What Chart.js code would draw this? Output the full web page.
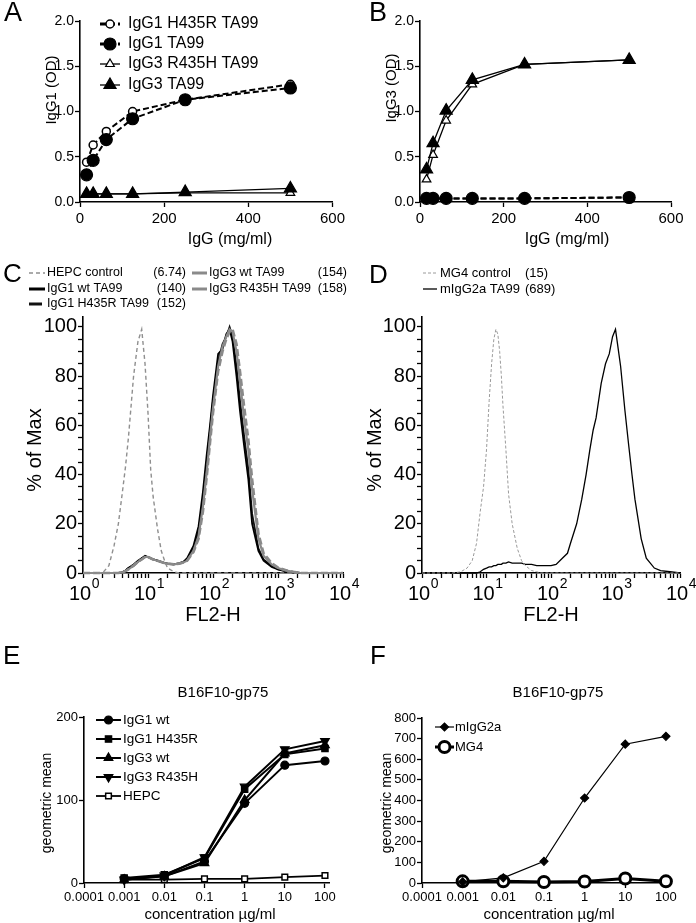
<!DOCTYPE html>
<html>
<head>
<meta charset="utf-8">
<script src="https://cdn.jsdelivr.net/npm/chart.js@4.4.0/dist/chart.umd.min.js"></script>
<style>
  body { margin: 0; background: #fff; width: 696px; height: 923px; position: relative; overflow: hidden; }
  canvas { position: absolute; }
</style>
</head>
<body>
<canvas id="chartA" width="348" height="250" style="left:0px;top:0px"></canvas>
<canvas id="chartB" width="351" height="250" style="left:345px;top:0px"></canvas>
<canvas id="chartC" width="380" height="385" style="left:0px;top:250px"></canvas>
<canvas id="chartD" width="348" height="385" style="left:348px;top:250px"></canvas>
<canvas id="chartE" width="345" height="288" style="left:0px;top:635px"></canvas>
<canvas id="chartF" width="351" height="288" style="left:345px;top:635px"></canvas>
<script>
// ELISA (panel A dan B)
const elisaDose = [15.6, 31.25, 62.5, 125, 250, 500];
const aIgG1H435R = [0.44, 0.63, 0.78, 1.00, 1.13, 1.30];
const aIgG1 = [0.30, 0.46, 0.69, 0.92, 1.13, 1.26];
const aIgG3R435H = [0.09, 0.09, 0.09, 0.09, 0.10, 0.10];
const aIgG3 = [0.09, 0.09, 0.09, 0.09, 0.11, 0.15];
const bIgG1H435R = [0.04, 0.04, 0.04, 0.04, 0.04, 0.05];
const bIgG1 = [0.04, 0.04, 0.04, 0.04, 0.04, 0.05];
const bIgG3R435H = [0.25, 0.52, 0.90, 1.30, 1.52, 1.57];
const bIgG3 = [0.36, 0.65, 1.01, 1.35, 1.52, 1.57];
const elisaLabels = ['IgG1 H435R TA99', 'IgG1 TA99', 'IgG3 R435H TA99', 'IgG3 TA99'];

// Histogram FACS panel C
const cFL2 = [1, 2, 2.5, 3, 3.5, 4, 4.5, 5, 6, 7, 8, 9, 10, 11, 12, 14, 16, 18, 20, 25,
  30, 35, 40, 50, 60, 70, 80, 90, 100, 120, 140, 160, 180, 200, 230, 260, 300, 350, 400, 500,
  600, 800, 1000, 1300, 1700, 2200, 3000, 10000];
const cHEPC = [0, 0, 3, 11, 20, 32, 43, 55, 80, 94, 99, 85, 65, 42, 31, 18, 9, 5, 2, 0.5,
  0, 0, 0, 0, 0, 0, 0, 0, 0, 0, 0, 0, 0, 0, 0, 0, 0, 0, 0, 0, 0, 0, 0, 0, 0, 0, 0, 0];
const cIgG1wt = [0, 0, 0, 0, 0, 0.3, 1, 2, 3.5, 5, 6, 7, 6.5, 6, 5.5, 5, 4.5, 4, 3.8, 3.5,
  4, 4.5, 6, 11, 19, 33, 48, 60, 72, 89, 91, 97, 99, 94, 80, 66, 52, 38, 20, 9,
  5, 2.5, 1.5, 0.8, 0.3, 0, 0, 0];
const cIgG1H435R = [0, 0, 0, 0, 0, 0.3, 1, 2, 3, 4.5, 6, 6.5, 6.5, 6, 5.5, 5, 4.5, 4, 3.8, 3.5,
  3.8, 4.5, 5.5, 10, 17, 30, 45, 58, 70, 86, 93, 96, 100, 96, 84, 70, 56, 42, 24, 10,
  5.5, 3, 1.5, 0.8, 0.3, 0, 0, 0];
const cIgG3wt = [0, 0, 0, 0, 0, 0.2, 0.8, 1.5, 3, 4.5, 5.5, 6.5, 6.5, 6, 5.5, 5, 4.5, 4, 3.8, 3.5,
  3.8, 4.3, 5, 9, 15, 27, 41, 55, 67, 84, 92, 96, 99, 98, 90, 78, 63, 50, 34, 14,
  7, 3.5, 2, 1, 0.5, 0, 0, 0];
const cIgG3R435H = [0, 0, 0, 0, 0, 0.2, 0.8, 1.5, 3, 4.5, 5.5, 6.5, 6.5, 6, 5.5, 5, 4.5, 4, 3.8, 3.5,
  3.8, 4.3, 5, 8.5, 14, 25, 39, 53, 65, 82, 90, 95, 98, 99, 93, 82, 68, 54, 38, 16,
  8, 4, 2.2, 1.2, 0.5, 0, 0, 0];
const cLabels = ['HEPC control', 'IgG1 wt TA99', 'IgG1 H435R TA99', 'IgG3 wt TA99', 'IgG3 R435H TA99'];
const cMfi = ['(6.74)', '(140)', '(152)', '(154)', '(158)'];

// Histogram FACS panel D
const dFL2 = [1, 3, 4, 5, 6, 7, 8, 9, 10, 11, 12, 13, 14, 15, 16, 17, 18, 20, 22, 25, 30, 35, 40,
  50, 60, 70, 80, 100, 120, 150, 180, 200, 250, 300, 350, 400, 450, 500, 600, 700, 800, 900, 1000,
  1200, 1400, 1600, 1800, 2000, 2500, 3000, 4000, 5000, 7000, 10000];
const dMG4 = [0, 0, 0.5, 2, 5, 12, 25, 35, 50, 70, 85, 95, 99, 97, 90, 80, 68, 50, 32, 20, 10, 5, 3,
  1, 0.5, 0, 0, 0, 0, 0, 0, 0, 0, 0, 0, 0, 0, 0, 0, 0, 0, 0, 0,
  0, 0, 0, 0, 0, 0, 0, 0, 0, 0, 0];
const dMIgG2a = [0, 0, 0, 0, 0, 0, 0.5, 1.5, 2, 2.5, 2.5, 3, 3, 3.5, 3.5, 3.5, 4, 4, 4.5, 4, 4, 4, 3.5,
  3.5, 3, 3, 3, 3, 3.5, 6, 8, 12, 20, 30, 40, 50, 58, 63, 77, 85, 89, 96, 99,
  84, 66, 52, 40, 30, 14, 6, 2, 1, 0.5, 0];
const dLabels = ['MG4 control', 'mIgG2a TA99'];
const dMfi = ['(15)', '(689)'];

// Sumbu log FACS
const flowTicks = [1, 2, 3, 4, 5, 6, 7, 8, 9, 10, 20, 30, 40, 50, 60, 70, 80, 90,
  100, 200, 300, 400, 500, 600, 700, 800, 900, 1000, 2000, 3000, 4000, 5000, 6000, 7000, 8000, 9000, 10000];
const flowDecades = [1, 10, 100, 1000, 10000];
const flowExp = ['0', '1', '2', '3', '4'];
const pctTicks = [0, 5, 10, 15, 20, 25, 30, 35, 40, 45, 50, 55, 60, 65, 70, 75, 80, 85, 90, 95, 100];

// Titrasi B16F10-gp75 (panel E dan F)
const concX = [0.001, 0.01, 0.1, 1, 10, 100];
const concTicks = [0.0001, 0.001, 0.01, 0.1, 1, 10, 100];
const concTickLabels = ['0.0001', '0.001', '0.01', '0.1', '1', '10', '100'];
const eIgG1wt = [5, 8, 26, 96, 142, 147];
const eIgG1H435R = [6, 10, 30, 113, 155, 162];
const eIgG3wt = [4, 8, 24, 100, 156, 166];
const eIgG3R435H = [4, 9, 31, 116, 161, 171];
const eHEPC = [4, 4, 5, 5, 7, 9];
const eLabels = ['IgG1 wt', 'IgG1 H435R', 'IgG3 wt', 'IgG3 R435H', 'HEPC'];
const fMIgG2a = [5, 25, 105, 412, 673, 711];
const fMG4 = [8, 8, 5, 7, 22, 8];
const fLabels = ['mIgG2a', 'MG4'];

const FONT = '"Liberation Sans", Arial, Helvetica, sans-serif';
Chart.defaults.font.family = FONT;
Chart.defaults.color = '#000';

// Plugin teks bebas (huruf panel, judul sumbu)
const figText = {
  id: 'figText',
  afterDraw(chart, args, opts) {
    const ctx = chart.ctx;
    (opts.items || []).forEach(it => {
      ctx.save();
      ctx.font = it.size + 'px ' + FONT;
      ctx.fillStyle = '#000';
      ctx.textAlign = it.align || 'center';
      ctx.textBaseline = 'middle';
      ctx.translate(it.x, it.y);
      if (it.rot) ctx.rotate(it.rot * Math.PI / 180);
      ctx.fillText(it.t, 0, 0);
      ctx.restore();
    });
  }
};

// Plugin legenda kecil dengan contoh garis + marker
const figLegend = {
  id: 'figLegend',
  afterDraw(chart, args, opts) {
    if (!opts.rows) return;
    const ctx = chart.ctx;
    opts.rows.forEach(r => {
      const ds = chart.data.datasets[r.ds];
      ctx.save();
      ctx.strokeStyle = ds.borderColor;
      ctx.lineWidth = r.lw || ds.borderWidth;
      ctx.setLineDash(r.dash || ds.borderDash || []);
      ctx.beginPath();
      ctx.moveTo(r.x0, r.y);
      ctx.lineTo(r.x1, r.y);
      ctx.stroke();
      ctx.setLineDash([]);
      if (ds.pointRadius > 0) {
        ctx.fillStyle = ds.pointBackgroundColor;
        ctx.strokeStyle = ds.pointBorderColor;
        ctx.lineWidth = ds.pointBorderWidth;
        Chart.helpers.drawPoint(ctx, {
          pointStyle: ds.pointStyle, radius: ds.pointRadius,
          rotation: ds.pointRotation || 0, borderWidth: ds.pointBorderWidth
        }, (r.x0 + r.x1) / 2, r.y);
      }
      ctx.font = opts.size + 'px ' + FONT;
      ctx.fillStyle = '#000';
      ctx.textBaseline = 'middle';
      ctx.textAlign = 'left';
      ctx.fillText(ds.label, r.tx, r.y);
      if (r.val) {
        ctx.textAlign = r.valAlign || 'left';
        ctx.fillText(r.val, r.vx, r.y);
      }
      ctx.restore();
    });
  }
};

// Plugin label 10^n untuk sumbu log
const powLabels = {
  id: 'powLabels',
  afterDraw(chart, args, opts) {
    if (!opts.values) return;
    const ctx = chart.ctx;
    const sc = chart.scales.x;
    opts.values.forEach((v, i) => {
      const x = sc.getPixelForValue(v);
      ctx.save();
      ctx.fillStyle = '#000';
      ctx.textBaseline = 'alphabetic';
      ctx.textAlign = 'left';
      ctx.font = '20px ' + FONT;
      const w1 = ctx.measureText('10').width;
      ctx.font = '14px ' + FONT;
      const w2 = ctx.measureText(opts.exps[i]).width;
      const left = x - (w1 + w2) / 2 + 1;
      ctx.fillText(opts.exps[i], left + w1 + 0.5, opts.y - 12);
      ctx.font = '20px ' + FONT;
      ctx.fillText('10', left, opts.y);
      ctx.restore();
    });
  }
};

Chart.register(figText, figLegend, powLabels);

function pts(xs, ys) {
  return xs.map((x, i) => ({ x: x, y: ys[i] }));
}

function series(label, xs, ys, style) {
  return Object.assign({
    label: label,
    data: pts(xs, ys),
    borderColor: '#000',
    borderWidth: 2,
    pointRadius: 0,
    pointStyle: 'circle',
    pointBackgroundColor: '#000',
    pointBorderColor: '#000',
    pointBorderWidth: 1.2,
    tension: 0,
    clip: false
  }, style);
}

function axis(size, horizontal, extra) {
  return Object.assign({
    border: { display: true, color: '#000', width: 1.6 },
    grid: { display: true, drawOnChartArea: false, drawTicks: true, tickLength: 5, tickColor: '#000', tickWidth: 1.3 },
    afterFit: function (s) {
      if (horizontal) s.height = size; else s.width = size;
    }
  }, extra);
}

function baseOptions(pad, scales, plugins) {
  return {
    responsive: false,
    animation: false,
    devicePixelRatio: 1,
    layout: { padding: pad },
    scales: scales,
    plugins: Object.assign({ legend: { display: false }, tooltip: { enabled: false } }, plugins)
  };
}

// Gaya untuk 4 seri ELISA
const elisaStyles = [
  { borderDash: [6, 3], pointRadius: 4, pointBackgroundColor: '#fff', pointBorderWidth: 1.5, order: 1 },
  { borderDash: [6, 3], pointRadius: 6, order: 0 },
  { borderWidth: 1.3, pointStyle: 'triangle', pointRadius: 5, pointBackgroundColor: '#fff', order: 1 },
  { borderWidth: 1.3, pointStyle: 'triangle', pointRadius: 7, order: 0 }
];

function elisaScales(yWidth, title) {
  return {
    x: axis(48, true, { type: 'linear', min: 0, max: 600, ticks: { stepSize: 200, font: { size: 15 }, padding: 3, maxRotation: 0 } }),
    y: axis(yWidth, false, { type: 'linear', min: 0, max: 2, ticks: { stepSize: 0.5, font: { size: 14 }, padding: 1, callback: v => v.toFixed(1) } })
  };
}

// Panel A
new Chart(document.getElementById('chartA').getContext('2d'), {
  type: 'line',
  data: {
    datasets: [
      series(elisaLabels[0], elisaDose, aIgG1H435R, elisaStyles[0]),
      series(elisaLabels[1], elisaDose, aIgG1, elisaStyles[1]),
      series(elisaLabels[2], elisaDose, aIgG3R435H, elisaStyles[2]),
      series(elisaLabels[3], elisaDose, aIgG3, elisaStyles[3])
    ]
  },
  options: baseOptions({ top: 21, right: 15, left: 0, bottom: 0 }, elisaScales(80), {
    figLegend: {
      size: 16,
      rows: [
        { ds: 0, y: 24, x0: 100, x1: 120, tx: 128, lw: 3 },
        { ds: 1, y: 44, x0: 100, x1: 120, tx: 128, lw: 3 },
        { ds: 2, y: 64, x0: 100, x1: 120, tx: 128 },
        { ds: 3, y: 85, x0: 100, x1: 120, tx: 128 }
      ]
    },
    figText: {
      items: [
        { t: 'A', x: 4, y: 14, size: 27, align: 'left' },
        { t: 'IgG1 (OD)', x: 52, y: 90, size: 15, rot: -90 },
        { t: 'IgG (mg/ml)', x: 230, y: 240, size: 16 }
      ]
    }
  })
});

// Panel B
new Chart(document.getElementById('chartB').getContext('2d'), {
  type: 'line',
  data: {
    datasets: [
      series(elisaLabels[0], elisaDose, bIgG1H435R, elisaStyles[0]),
      series(elisaLabels[1], elisaDose, bIgG1, elisaStyles[1]),
      series(elisaLabels[2], elisaDose, bIgG3R435H, elisaStyles[2]),
      series(elisaLabels[3], elisaDose, bIgG3, elisaStyles[3])
    ]
  },
  options: baseOptions({ top: 21, right: 25, left: 0, bottom: 0 }, elisaScales(75), {
    figText: {
      items: [
        { t: 'B', x: 24, y: 14, size: 27, align: 'left' },
        { t: 'IgG3 (OD)', x: 47, y: 88, size: 15, rot: -90 },
        { t: 'IgG (mg/ml)', x: 222, y: 240, size: 16 }
      ]
    }
  })
});

function flowScales(yWidth) {
  return {
    x: axis(62, true, {
      type: 'logarithmic', min: 1, max: 10000,
      afterBuildTicks: s => { s.ticks = flowTicks.map(v => ({ value: v })); },
      ticks: { autoSkip: false, maxRotation: 0, callback: () => '' }
    }),
    y: axis(yWidth, false, {
      type: 'linear', min: 0, max: 104,
      afterBuildTicks: s => { s.ticks = pctTicks.map(v => ({ value: v })); },
      ticks: { autoSkip: false, font: { size: 20 }, padding: 1, callback: v => (v % 20 === 0 ? String(v) : '') }
    })
  };
}

// Panel C
new Chart(document.getElementById('chartC').getContext('2d'), {
  type: 'line',
  data: {
    datasets: [
      series(cLabels[0], cFL2, cHEPC, { borderColor: '#8f8f8f', borderWidth: 1.4, borderDash: [4, 3], order: 0 }),
      series(cLabels[1], cFL2, cIgG1wt, { borderColor: '#000', borderWidth: 1.8, order: 2 }),
      series(cLabels[2], cFL2, cIgG1H435R, { borderColor: '#111', borderWidth: 1.8, order: 2 }),
      series(cLabels[3], cFL2, cIgG3wt, { borderColor: '#8a8a8a', borderWidth: 2.2, order: 1 }),
      series(cLabels[4], cFL2, cIgG3R435H, { borderColor: '#8a8a8a', borderWidth: 2.6, borderDash: [7, 3], order: 0 })
    ]
  },
  options: baseOptions({ top: 67, right: 37, left: 0, bottom: 0 }, flowScales(83), {
    powLabels: { values: flowDecades, exps: flowExp, y: 350 },
    figLegend: {
      size: 12.5,
      rows: [
        { ds: 0, y: 23, x0: 29, x1: 45, tx: 47, val: cMfi[0], vx: 186, valAlign: 'right' },
        { ds: 1, y: 39, x0: 29, x1: 45, tx: 47, lw: 3, val: cMfi[1], vx: 186, valAlign: 'right' },
        { ds: 2, y: 54, x0: 29, x1: 42, tx: 47, lw: 3, val: cMfi[2], vx: 186, valAlign: 'right' },
        { ds: 3, y: 23, x0: 192, x1: 207, tx: 209, lw: 3, val: cMfi[3], vx: 347, valAlign: 'right' },
        { ds: 4, y: 39, x0: 192, x1: 207, tx: 209, lw: 3, dash: [], val: cMfi[4], vx: 347, valAlign: 'right' }
      ]
    },
    figText: {
      items: [
        { t: 'C', x: 3, y: 25, size: 26, align: 'left' },
        { t: '% of Max', x: 35, y: 200, size: 20, rot: -90 },
        { t: 'FL2-H', x: 213, y: 365, size: 20 }
      ]
    }
  })
});

// Panel D
new Chart(document.getElementById('chartD').getContext('2d'), {
  type: 'line',
  data: {
    datasets: [
      series(dLabels[0], dFL2, dMG4, { borderColor: '#9a9a9a', borderWidth: 1, borderDash: [3, 2] }),
      series(dLabels[1], dFL2, dMIgG2a, { borderColor: '#000', borderWidth: 1.3 })
    ]
  },
  options: baseOptions({ top: 67, right: 16, left: 0, bottom: 0 }, flowScales(74), {
    powLabels: { values: flowDecades, exps: flowExp, y: 350 },
    figLegend: {
      size: 13,
      rows: [
        { ds: 0, y: 23, x0: 75, x1: 89, tx: 92, val: dMfi[0], vx: 177 },
        { ds: 1, y: 39, x0: 75, x1: 89, tx: 92, val: dMfi[1], vx: 177 }
      ]
    },
    figText: {
      items: [
        { t: 'D', x: 21, y: 26, size: 26, align: 'left' },
        { t: '% of Max', x: 27, y: 200, size: 20, rot: -90 },
        { t: 'FL2-H', x: 203, y: 365, size: 20 }
      ]
    }
  })
});

function concScales(yWidth, yMax, yStep) {
  return {
    x: axis(40, true, {
      type: 'logarithmic', min: 0.0001, max: 126,
      afterBuildTicks: s => { s.ticks = concTicks.map(v => ({ value: v })); },
      ticks: { autoSkip: false, maxRotation: 0, font: { size: 13 }, padding: 2, callback: (v, i) => concTickLabels[i] }
    }),
    y: axis(yWidth, false, {
      type: 'linear', min: 0, max: yMax,
      ticks: { stepSize: yStep, font: { size: 13 }, padding: 1 }
    })
  };
}

// Panel E
new Chart(document.getElementById('chartE').getContext('2d'), {
  type: 'line',
  data: {
    datasets: [
      series(eLabels[0], concX, eIgG1wt, { pointRadius: 4 }),
      series(eLabels[1], concX, eIgG1H435R, { pointStyle: 'rect', pointRadius: 4.5 }),
      series(eLabels[2], concX, eIgG3wt, { pointStyle: 'triangle', pointRadius: 5 }),
      series(eLabels[3], concX, eIgG3R435H, { pointStyle: 'triangle', pointRotation: 180, pointRadius: 5 }),
      series(eLabels[4], concX, eHEPC, { borderWidth: 1.8, pointStyle: 'rect', pointRadius: 4, pointBackgroundColor: '#fff', pointBorderWidth: 1.5 })
    ]
  },
  options: baseOptions({ top: 82, right: 16, left: 0, bottom: 0 }, concScales(84, 200, 100), {
    figLegend: {
      size: 13.5,
      rows: [
        { ds: 0, y: 85, x0: 96, x1: 121, tx: 123 },
        { ds: 1, y: 104, x0: 96, x1: 121, tx: 123 },
        { ds: 2, y: 123, x0: 96, x1: 121, tx: 123 },
        { ds: 3, y: 142, x0: 96, x1: 121, tx: 123 },
        { ds: 4, y: 161, x0: 96, x1: 121, tx: 123 }
      ]
    },
    figText: {
      items: [
        { t: 'E', x: 3, y: 22, size: 26, align: 'left' },
        { t: 'B16F10-gp75', x: 223, y: 58, size: 15 },
        { t: 'geometric mean', x: 47, y: 168, size: 14, rot: -90 },
        { t: 'concentration µg/ml', x: 210, y: 280, size: 15 }
      ]
    }
  })
});

// Panel F
new Chart(document.getElementById('chartF').getContext('2d'), {
  type: 'line',
  data: {
    datasets: [
      series(fLabels[0], concX, fMIgG2a, { borderWidth: 1.2, pointStyle: 'rectRot', pointRadius: 4 }),
      series(fLabels[1], concX, fMG4, { borderWidth: 3, pointRadius: 5.5, pointBackgroundColor: '#fff', pointBorderWidth: 3 })
    ]
  },
  options: baseOptions({ top: 83, right: 26, left: 0, bottom: 0 }, concScales(77, 800, 100), {
    figLegend: {
      size: 13,
      rows: [
        { ds: 0, y: 92, x0: 90, x1: 109, tx: 110 },
        { ds: 1, y: 112, x0: 90, x1: 109, tx: 110 }
      ]
    },
    figText: {
      items: [
        { t: 'F', x: 25, y: 22, size: 26, align: 'left' },
        { t: 'B16F10-gp75', x: 213, y: 58, size: 15 },
        { t: 'geometric mean', x: 42, y: 168, size: 14, rot: -90 },
        { t: 'concentration µg/ml', x: 204, y: 280, size: 15 }
      ]
    }
  })
});
</script>
</body>
</html>
